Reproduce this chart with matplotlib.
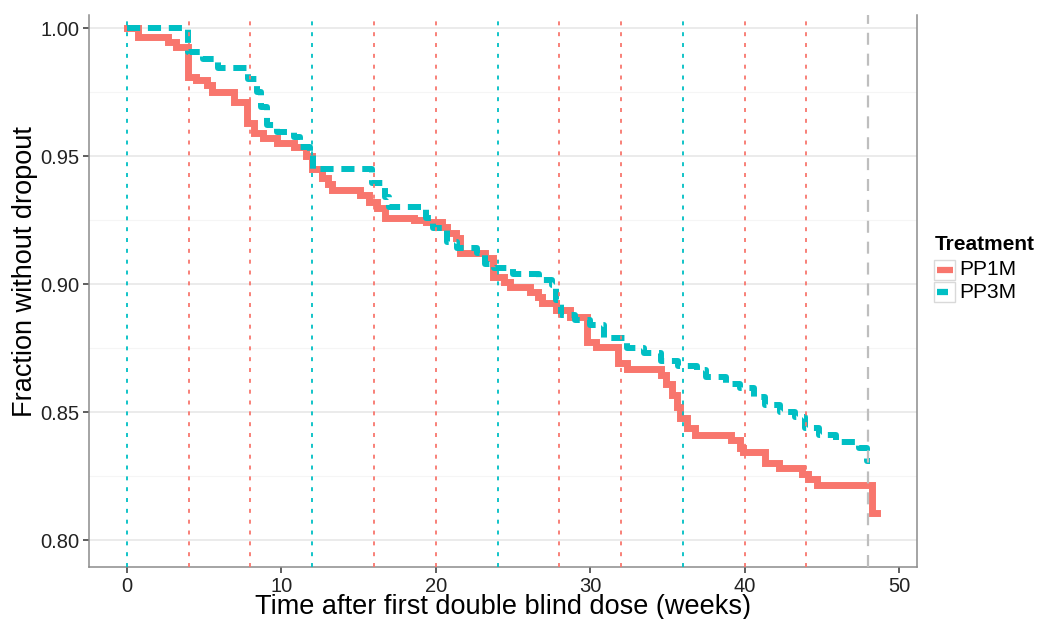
import matplotlib
matplotlib.use("Agg")
import matplotlib.pyplot as plt
from matplotlib.lines import Line2D
from matplotlib.patches import Rectangle

plt.rcParams['font.family'] = ['Liberation Sans', 'DejaVu Sans']

# Kaplan-Meier style step data: time (weeks) and fraction still in study
pp1m_t = [0, 0.7, 2.65, 3.2, 3.95, 4.5, 5.2, 5.5, 6.9, 7.8, 8.2, 8.8, 9.7, 10.8,
          11.6, 12.0, 12.6, 13.0, 13.3, 15.1, 15.7, 16.2, 16.7, 18.6, 19.4, 20.4,
          20.7, 21.3, 21.6, 23.2, 23.7, 24.4, 24.8, 26.1, 26.6, 26.9, 27.8, 28.7,
          29.8, 30.4, 31.8, 32.4, 34.6, 34.9, 35.3, 35.6, 35.8, 36.3, 36.8, 39.1,
          39.7, 39.9, 41.3, 42.2, 43.7, 44.1, 44.7, 48.25, 48.6]
pp1m_s = [1.0, 0.9966, 0.9947, 0.9927, 0.981, 0.9797, 0.9777, 0.9751, 0.9712,
          0.9628, 0.959, 0.957, 0.955, 0.9535, 0.950, 0.945, 0.9414, 0.939, 0.9367,
          0.9348, 0.932, 0.9297, 0.926, 0.925, 0.9243, 0.9223, 0.920, 0.918, 0.912,
          0.910, 0.9029, 0.9008, 0.8988, 0.897, 0.895, 0.8926, 0.890, 0.887, 0.8773,
          0.8754, 0.869, 0.8668, 0.8645, 0.861, 0.8566, 0.852, 0.8477, 0.8437, 0.841,
          0.839, 0.836, 0.8344, 0.830, 0.828, 0.826, 0.824, 0.8215, 0.8105, 0.8105]

pp3m_t = [0, 3.95, 4.9, 5.9, 7.85, 8.4, 8.7, 9.1, 9.7, 10.8, 11.2, 11.85, 12.05,
          15.9, 16.7, 17.0, 19.4, 19.8, 20.7, 21.4, 22.7, 23.2, 23.8, 25.0, 26.7,
          27.5, 27.8, 28.1, 29.0, 30.0, 30.9, 32.4, 33.5, 34.6, 35.7, 36.9, 37.5,
          38.8, 39.7, 40.6, 41.3, 42.3, 43.3, 43.9, 44.8, 45.9, 47.4, 47.9, 48.1]
pp3m_s = [1.0, 0.9907, 0.988, 0.9843, 0.980, 0.975, 0.969, 0.962, 0.9594, 0.9575,
          0.9535, 0.951, 0.945, 0.9394, 0.934, 0.930, 0.926, 0.922, 0.9165, 0.914,
          0.912, 0.908, 0.9062, 0.904, 0.9016, 0.8996, 0.8937, 0.888, 0.886, 0.884,
          0.879, 0.875, 0.873, 0.870, 0.868, 0.8664, 0.8637, 0.861, 0.8594, 0.856,
          0.8527, 0.850, 0.848, 0.8437, 0.841, 0.8383, 0.836, 0.831, 0.831]

# dosing visits
pp3m_visits = [0, 12, 24, 36]
pp1m_visits = [4, 8, 16, 20, 28, 32, 40, 44]
end_week = 48

RED = '#F8766D'
CYAN = '#00BFC4'

fig = plt.figure(figsize=(10.4, 6.19), dpi=100)
ax = fig.add_axes([89 / 1040, 52 / 619, 828 / 1040, 552 / 619])

ax.set_xlim(-2.46, 51.17)
ax.set_ylim(0.7895, 1.0051)

ax.set_yticks([0.80, 0.85, 0.90, 0.95, 1.00])
ax.set_yticks([0.825, 0.875, 0.925, 0.975], minor=True)
ax.set_yticklabels(['0.80', '0.85', '0.90', '0.95', '1.00'])
ax.set_xticks([0, 10, 20, 30, 40, 50])
ax.grid(axis='y', which='major', color='#E6E6E6', lw=1.1, zorder=0)
ax.grid(axis='y', which='minor', color='#F5F5F5', lw=0.8, zorder=0)
ax.tick_params(axis='both', which='major', labelsize=14.5, length=4, width=1.1,
               color='#333333', labelcolor='#222222', pad=3)
ax.tick_params(axis='y', which='minor', length=0)
for side in ['left', 'bottom', 'right']:
    ax.spines[side].set_color('#8C8C8C')
    ax.spines[side].set_linewidth(1.1)
ax.spines['top'].set_visible(False)

ax.plot(pp1m_t, pp1m_s, drawstyle='steps-post', color=RED, lw=5, zorder=3,
        solid_joinstyle='miter')
ax.plot(pp3m_t, pp3m_s, drawstyle='steps-post', color=CYAN, lw=4.3, zorder=4,
        linestyle=(0, (2.2, 1.3)), dash_capstyle='butt')

for v in pp3m_visits:
    ax.axvline(v, color=CYAN, lw=1.3, linestyle=(0, (2.2, 3.8)), zorder=5)
for v in pp1m_visits:
    ax.axvline(v, color=RED, lw=1.3, linestyle=(0, (2.2, 3.8)), zorder=5)
ax.axvline(end_week, color='#BEBEBE', lw=1.6, linestyle=(0, (5.4, 4.0)), zorder=5)

ax.set_xlabel('Time after first double blind dose (weeks)', fontsize=19.5,
              color='black', labelpad=-1)
ax.set_ylabel('Fraction without dropout', fontsize=19.5, color='black')
ax.yaxis.set_label_coords(-0.061, 0.536)

# legend drawn by hand to get ggplot-style key boxes
fig.text(935 / 1040, 1 - 245 / 619, 'Treatment', fontsize=15, fontweight='bold',
         ha='left', va='center')
keys = [('PP1M', RED, '-', 270), ('PP3M', CYAN, '--', 292)]
for label, col, ls, yc in keys:
    fig.add_artist(Rectangle((934 / 1040, 1 - (yc + 10) / 619), 21 / 1040, 20 / 619,
                             transform=fig.transFigure, facecolor='white',
                             edgecolor='#D9D9D9', lw=1.0))
    x1 = 953 if ls == '-' else 948
    fig.add_artist(Line2D([937 / 1040, x1 / 1040], [1 - yc / 619, 1 - yc / 619],
                          transform=fig.transFigure, color=col, lw=4.5,
                          solid_capstyle='butt'))
    fig.text(959 / 1040, 1 - yc / 619, label, fontsize=15, ha='left', va='center')

fig.savefig('out.png', dpi=100)
